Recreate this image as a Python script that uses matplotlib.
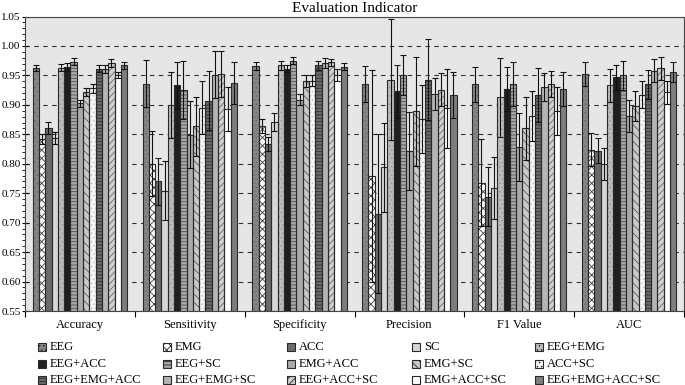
import numpy as np
import matplotlib
matplotlib.use("Agg")
import matplotlib.pyplot as plt
from matplotlib.patches import Rectangle

plt.rcParams['font.family'] = ['Liberation Serif', 'DejaVu Serif']
plt.rcParams['hatch.linewidth'] = 0.6

metrics = ["Accuracy", "Sensitivity", "Specificity", "Precision", "F1 Value", "AUC"]
series = ["EEG", "EMG", "ACC", "SC", "EEG+EMG", "EEG+ACC", "EEG+SC", "EMG+ACC",
          "EMG+SC", "ACC+SC", "EEG+EMG+ACC", "EEG+EMG+SC", "EEG+ACC+SC",
          "EMG+ACC+SC", "EEG+EMG+ACC+SC"]

acc_vals = [0.963, 0.842, 0.861, 0.844, 0.963, 0.964, 0.973, 0.903, 0.922, 0.928, 0.961, 0.961, 0.971, 0.950, 0.967]
acc_err = [0.005, 0.008, 0.010, 0.010, 0.006, 0.007, 0.006, 0.006, 0.007, 0.008, 0.006, 0.007, 0.006, 0.005, 0.006]
sen_vals = [0.936, 0.800, 0.770, 0.754, 0.900, 0.933, 0.925, 0.849, 0.864, 0.895, 0.907, 0.951, 0.952, 0.893, 0.937]
sen_err = [0.040, 0.055, 0.040, 0.050, 0.056, 0.040, 0.049, 0.057, 0.050, 0.045, 0.050, 0.040, 0.039, 0.038, 0.035]
spe_vals = [0.966, 0.864, 0.834, 0.871, 0.967, 0.961, 0.975, 0.909, 0.941, 0.941, 0.967, 0.971, 0.972, 0.951, 0.965]
spe_err = [0.0075, 0.012, 0.012, 0.015, 0.007, 0.006, 0.006, 0.010, 0.010, 0.009, 0.007, 0.008, 0.006, 0.010, 0.006]
pre_vals = [0.935, 0.779, 0.715, 0.794, 0.943, 0.923, 0.951, 0.822, 0.889, 0.876, 0.943, 0.919, 0.926, 0.894, 0.917]
pre_err = [0.031, 0.180, 0.135, 0.076, 0.103, 0.045, 0.034, 0.066, 0.092, 0.058, 0.068, 0.027, 0.028, 0.067, 0.039]
f1_vals = [0.935, 0.768, 0.744, 0.759, 0.913, 0.927, 0.935, 0.829, 0.860, 0.881, 0.917, 0.930, 0.935, 0.890, 0.927]
f1_err = [0.030, 0.074, 0.050, 0.052, 0.067, 0.037, 0.037, 0.058, 0.053, 0.043, 0.046, 0.024, 0.022, 0.041, 0.029]
auc_vals = [0.952, 0.824, 0.822, 0.800, 0.933, 0.947, 0.950, 0.881, 0.898, 0.917, 0.935, 0.958, 0.962, 0.921, 0.955]
auc_err = [0.020, 0.028, 0.021, 0.027, 0.028, 0.021, 0.024, 0.027, 0.025, 0.023, 0.025, 0.020, 0.019, 0.020, 0.017]

yticks = [0.55, 0.60, 0.65, 0.70, 0.75, 0.80, 0.85, 0.90, 0.95, 1.00, 1.05]

vals = np.array([acc_vals, sen_vals, spe_vals, pre_vals, f1_vals, auc_vals])
errs = np.array([acc_err, sen_err, spe_err, pre_err, f1_err, auc_err])

styles = [
    ('#858585', '....', '#6a6a6a'),
    ('#ffffff', 'xxxx', '#404040'),
    ('#6b6b6b', '', None),
    ('#d6d6d6', '', None),
    ('#bdbdbd', '....', '#9a9a9a'),
    ('#1f1f1f', '', None),
    ('#a8a8a8', '-----', '#505050'),
    ('#aaaaaa', '', None),
    ('#c8c8c8', '\\\\\\\\', '#5a5a5a'),
    ('#f6f6f6', '....', '#c4c4c4'),
    ('#6a6a6a', '-----', '#303030'),
    ('#b4b4b4', '', None),
    ('#d0d0d0', '/////', '#6a6a6a'),
    ('#ffffff', '', None),
    ('#7d7d7d', '', None),
]

W, H = 685, 385
fig = plt.figure(figsize=(W / 100, H / 100), dpi=100)
ax = fig.add_axes([25 / W, 1 - 311 / H, 659 / W, 294.5 / H])
ax.set_facecolor('#e6e6e6')

n = len(series)
bw = 0.86 / n
x = np.arange(len(metrics))
edge = '#2a2a2a'
for i in range(n):
    pos = x - 0.43 + bw * (i + 0.5)
    fc, h, hc = styles[i]
    if h:
        ax.bar(pos, vals[:, i] - 0.55, bw, bottom=0.55, color=fc, hatch=h,
               edgecolor=hc, linewidth=0, zorder=2)
    else:
        ax.bar(pos, vals[:, i] - 0.55, bw, bottom=0.55, color=fc, linewidth=0, zorder=2)
    ax.bar(pos, vals[:, i] - 0.55, bw, bottom=0.55, fill=False, edgecolor=edge,
           linewidth=0.8, zorder=3)
    ax.errorbar(pos, vals[:, i], yerr=errs[:, i], fmt='none', ecolor='#111111',
                elinewidth=0.8, capsize=2, capthick=0.8, zorder=4)

ax.set_ylim(0.55, 1.05)
ax.set_xlim(-0.5, len(metrics) - 0.5)
ax.set_yticks(yticks)
ax.set_yticklabels([f"{t:.2f}" for t in yticks], fontsize=8)
ax.set_yticks(np.arange(0.55, 1.0501, 0.01), minor=True)
ax.yaxis.grid(True, which='major', linestyle=(0, (4, 4)), color='#333333', linewidth=0.8, zorder=0)
ax.set_axisbelow(True)

ax.set_xticks(np.arange(-0.5, len(metrics)), labels=[''] * (len(metrics) + 1))
ax.set_xticks(x, minor=True)
ax.set_xticklabels(metrics, minor=True, fontsize=9)
ax.tick_params(axis='x', which='minor', length=0, pad=6)
ax.tick_params(axis='x', which='major', length=4, direction='out')
ax.tick_params(axis='y', which='major', length=4, direction='inout', pad=1)
ax.tick_params(axis='y', which='minor', length=2, direction='out')

for s in ax.spines.values():
    s.set_color('#444444')
    s.set_linewidth(0.8)

ax.set_title("Evaluation Indicator", fontsize=11, pad=3)

# legend: 5 columns x 3 rows, row-major order
col_x = [38, 163, 287, 412, 535]
row_y = [347, 364, 380]
sw = 8
for k in range(n):
    r, c = divmod(k, 5)
    fc, h, hc = styles[k]
    x0 = col_x[c] / W
    y0 = 1 - (row_y[r] + sw / 2) / H
    fig.patches.append(Rectangle((x0, y0), sw / W, sw / H, transform=fig.transFigure,
                                 facecolor=fc, hatch=h if h else None,
                                 edgecolor=edge, linewidth=0.8))
    fig.text((col_x[c] + sw + 4) / W, 1 - row_y[r] / H, series[k], fontsize=9,
             va='center', ha='left')

fig.savefig('out.png', dpi=100)
